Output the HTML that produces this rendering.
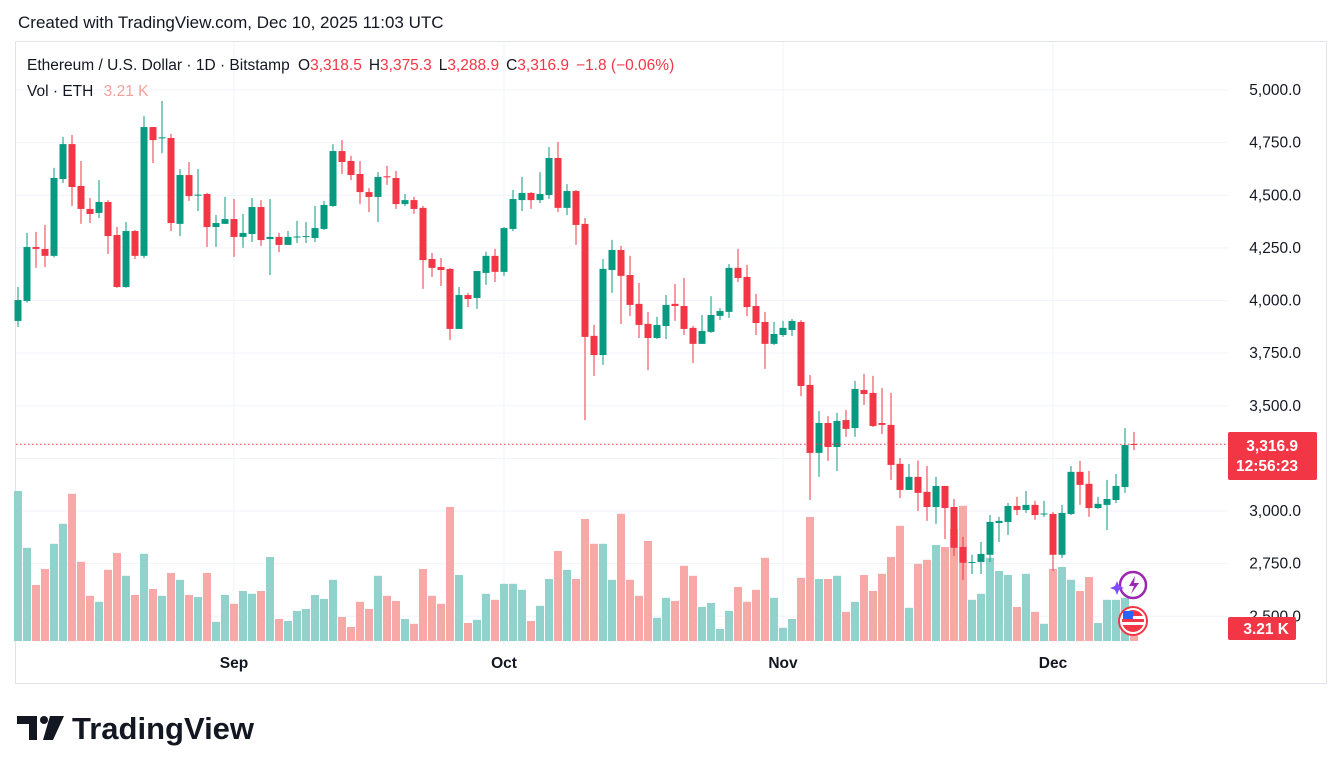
<!DOCTYPE html>
<html><head><meta charset="utf-8"><style>
html,body{margin:0;padding:0;background:#fff;}
svg{display:block;font-family:"Liberation Sans",sans-serif;}
</style></head><body>
<svg id="chart" width="1341" height="773" viewBox="0 0 1341 773" xmlns="http://www.w3.org/2000/svg">
<rect width="1341" height="773" fill="#fff"/>
<text x="18" y="28" font-size="17" fill="#131722">Created with TradingView.com, Dec 10, 2025 11:03 UTC</text>
<rect x="15.5" y="41.5" width="1311" height="642" fill="#fff" stroke="#e0e3eb"/>
<g id="grid"></g>
<g id="volume"></g>
<g id="candles"></g>
<line id="lastline" x1="16" x2="1228" stroke="#f23645" stroke-width="1" stroke-dasharray="1.5,2.5"/>
<g id="yaxis"></g>
<g id="xaxis"></g>
<g font-size="15.5">
<text x="27" y="70" fill="#131722">Ethereum / U.S. Dollar · 1D · Bitstamp <tspan dx="4">O</tspan><tspan fill="#f23645">3,318.5</tspan><tspan dx="7">H</tspan><tspan fill="#f23645">3,375.3</tspan><tspan dx="7">L</tspan><tspan fill="#f23645">3,288.9</tspan><tspan dx="7">C</tspan><tspan fill="#f23645">3,316.9</tspan><tspan dx="7" fill="#f23645">−1.8 (−0.06%)</tspan></text>
<text x="27" y="96" fill="#131722">Vol · ETH <tspan dx="6" fill="#f7a09a">3.21 K</tspan></text>
</g>
<g>
<rect x="1228" y="432" width="89" height="48" rx="2" fill="#f23645"/>
<text x="1298" y="451" font-size="15.5" font-weight="bold" fill="#fff" text-anchor="end">3,316.9</text>
<text x="1298" y="471" font-size="15.5" font-weight="bold" fill="#fff" text-anchor="end">12:56:23</text>
</g>
<g>
<rect x="1228" y="617" width="68" height="23" rx="2" fill="#f23645"/>
<text x="1289" y="634" font-size="15.5" font-weight="bold" fill="#fff" text-anchor="end">3.21 K</text>
</g>
<g>
<circle cx="1133" cy="585" r="13" fill="#fff" stroke="#9c27b0" stroke-width="2.5"/>
<path d="M1135 576 L1129 586 L1134 586 L1131 594 L1139 583 L1134 583 Z" fill="#9c27b0"/>
<path d="M1117 581 l2 5 l5 2 l-5 2 l-2 5 l-2 -5 l-5 -2 l5 -2 Z" fill="#7c4dff"/>
</g>
<g>
<circle cx="1133" cy="621" r="14" fill="#fff" stroke="#f23645" stroke-width="2"/>
<circle cx="1133" cy="621" r="11" fill="#f23645"/>
<rect x="1122" y="616" width="22" height="3" fill="#fff"/><rect x="1122" y="622" width="22" height="3" fill="#fff"/>
<rect x="1123" y="611" width="10" height="8" fill="#2962ff"/>
</g>
<g>
<path d="M17 716 H37 V740 H29 V724 H17 Z" fill="#131722"/>
<circle cx="44" cy="720" r="4" fill="#131722"/>
<path d="M50 716 H64 L53 740 H43 Z" fill="#131722"/>
<text x="72" y="739" font-size="31" font-weight="bold" fill="#131722">TradingView</text>
</g>
</svg>
<script>
const opens=[3903,3998,4254,4245,4212,4577,4743,4544,4435,4416,4468,4311,4064,4330,4212,4824,4770,4772,4364,4596,4498,4506,4349,4364,4387,4302,4316,4444,4292,4302,4264,4300,4302,4297,4340,4449,4710,4663,4601,4515,4492,4590,4582,4458,4477,4440,4197,4159,4150,3865,4026,4012,4131,4212,4136,4340,4477,4511,4477,4501,4677,4440,4520,4364,3832,3741,4145,4240,4121,3984,3889,3822,3879,3984,3974,3870,3794,3851,3927,3946,4155,4112,3974,3898,3794,3836,3860,3898,3599,3276,3418,3304,3432,3394,3575,3561,3418,3409,3224,3100,3162,3091,3019,3119,3019,2829,2754,2758,2792,2943,2948,3024,3005,3029,2984,2986,2792,2986,3186,3129,3014,3029,3052,3114,3318.5];
const highs=[4064,4321,4326,4359,4630,4777,4786,4663,4487,4572,4477,4349,4373,4335,4876,4824,4948,4791,4625,4658,4625,4511,4406,4492,4482,4411,4487,4477,4482,4321,4330,4378,4373,4449,4473,4743,4762,4687,4663,4534,4610,4639,4615,4506,4492,4449,4226,4202,4154,4064,4036,4140,4231,4245,4349,4525,4587,4515,4610,4729,4753,4553,4525,4392,3884,4197,4288,4259,4212,4083,3946,3922,4026,4078,4107,3879,3931,4021,3964,4173,4245,4169,4031,3946,3898,3903,3912,3907,3646,3475,3451,3466,3480,3618,3651,3642,3584,3561,3252,3224,3240,3214,3162,3119,3057,2877,2792,2853,2981,2972,3038,3067,3095,3048,3048,2995,3029,3214,3238,3190,3067,3148,3176,3394,3375.3];
const lows=[3874,3990,4155,4159,4205,4558,4449,4364,4368,4392,4221,4060,4060,4197,4202,4653,4700,4330,4306,4473,4425,4254,4254,4364,4207,4250,4278,4259,4121,4230,4264,4273,4273,4278,4335,4444,4601,4572,4458,4420,4373,4549,4435,4449,4411,4055,4112,4069,3812,3865,3969,3960,4074,4088,4117,4330,4425,4435,4463,4482,4420,4406,4264,3432,3642,3694,4036,3889,3926,3822,3670,3817,3817,3903,3836,3703,3794,3846,3907,3917,4088,3926,3836,3675,3789,3827,3832,3546,3052,3162,3238,3190,3352,3352,3504,3399,3366,3148,3062,3100,3000,2953,2939,2867,2787,2673,2701,2701,2758,2853,2886,2981,2991,2958,2972,2715,2777,2981,3029,2972,3010,2910,3038,3086,3288.9];
const closes=[4002,4254,4245,4212,4582,4743,4539,4435,4411,4468,4306,4064,4330,4212,4824,4762,4775,4368,4596,4496,4503,4349,4368,4387,4302,4321,4444,4287,4302,4264,4302,4304,4306,4344,4454,4710,4658,4596,4515,4492,4587,4585,4458,4477,4435,4192,4155,4145,3865,4026,4007,4140,4212,4136,4344,4482,4511,4477,4506,4677,4440,4520,4359,3827,3741,4150,4240,4117,3979,3884,3822,3884,3979,3974,3865,3794,3855,3931,3950,4155,4107,3969,3893,3794,3841,3870,3903,3594,3276,3418,3304,3428,3390,3580,3556,3404,3409,3219,3100,3162,3086,3019,3119,3014,2825,2754,2758,2796,2948,2953,3024,3005,3029,2981,2988,2792,2991,3186,3124,3014,3034,3057,3119,3314,3316.9];
const volumesK=[37.5,23.3,14.0,18.0,24.3,29.3,36.8,19.8,11.3,9.8,17.8,22.0,16.3,11.5,21.8,13.0,11.3,17.0,15.3,11.5,11.0,17.0,4.8,11.5,9.3,12.5,11.8,12.5,21.0,5.5,5.0,7.5,8.0,11.5,10.5,15.3,6.0,3.5,9.8,8.0,16.3,11.3,10.0,5.5,4.3,18.0,11.3,9.3,33.5,16.5,4.5,5.3,11.8,10.3,14.3,14.3,12.8,5.0,8.8,15.5,22.5,17.8,15.5,30.5,24.3,24.3,15.3,31.8,15.3,11.3,25.0,5.8,10.8,10.0,18.8,16.3,8.5,9.5,3.0,7.5,13.5,9.8,12.8,20.8,10.8,3.3,5.5,15.8,31.0,15.5,15.5,16.3,7.3,9.8,16.5,12.5,16.8,21.0,28.8,8.3,19.3,20.3,24.0,23.5,28.0,33.8,10.3,11.8,20.8,17.5,16.5,8.5,16.8,7.3,4.3,18.0,18.5,15.3,12.5,16.0,4.5,10.3,10.3,10.8,3.21];
const priceTicks=[2500,2750,3000,3250,3500,3750,4000,4250,4500,4750,5000];
const monthLabels=["Sep","Oct","Nov","Dec"];
const monthIndex=[24,54,85,115];
const lastPrice=3316.9;

const NS="http://www.w3.org/2000/svg";
function x(i){return 18+i*9;}
function y(p){return 90+(5000-p)*0.2105;}
function vy(v){return 641-v*4;}
function mk(tag,attrs,parent){const e=document.createElementNS(NS,tag);for(const k in attrs)e.setAttribute(k,attrs[k]);parent.appendChild(e);return e;}
const grid=document.getElementById('grid'),vol=document.getElementById('volume'),cg=document.getElementById('candles'),ya=document.getElementById('yaxis'),xa=document.getElementById('xaxis');
priceTicks.forEach(p=>{
  const l=mk('line',{x1:16,x2:1228,y1:y(p),y2:y(p),stroke:'#f0f3fa','stroke-width':1},grid);
  
  
  const t=mk('text',{x:1301,y:y(p)+5,'font-size':15.5,fill:'#131722','text-anchor':'end'},ya);
  t.textContent=p.toLocaleString('en-US',{minimumFractionDigits:1,maximumFractionDigits:1});
  
  
});
monthLabels.forEach((m,k)=>{
  const gx=x(monthIndex[k]);
  const l=mk('line',{x1:gx,x2:gx,y1:42,y2:645,stroke:'#f0f3fa','stroke-width':1},grid);
  
  
  const t=mk('text',{x:gx,y:668,'font-size':15.5,'font-weight':'bold',fill:'#131722','text-anchor':'middle'},xa);
  t.textContent=m;
  
  
});
for(let i=0;i<opens.length;i++){
  const up=closes[i]>=opens[i];
  const cx=x(i);
  const b=mk('rect',{x:cx-4,y:vy(volumesK[i]),width:8,height:641-vy(volumesK[i]),fill:up?'#92d2cc':'#f7a9a7'},vol);
  
  
}
for(let i=0;i<opens.length;i++){
  const up=closes[i]>=opens[i];
  const c=up?'#089981':'#f23645';
  const cx=x(i);
  const w=mk('line',{x1:cx,x2:cx,y1:y(highs[i]),y2:y(lows[i]),stroke:c,'stroke-width':1},cg);
  
  
  const top=y(Math.max(opens[i],closes[i])),bot=y(Math.min(opens[i],closes[i]));
  const r=mk('rect',{x:cx-3.5,y:top,width:7,height:Math.max(1,bot-top),fill:c},cg);
  
  
}
const ll=document.getElementById('lastline');
ll.setAttribute('y1',y(lastPrice));ll.setAttribute('y2',y(lastPrice));
</script>
</body></html>
